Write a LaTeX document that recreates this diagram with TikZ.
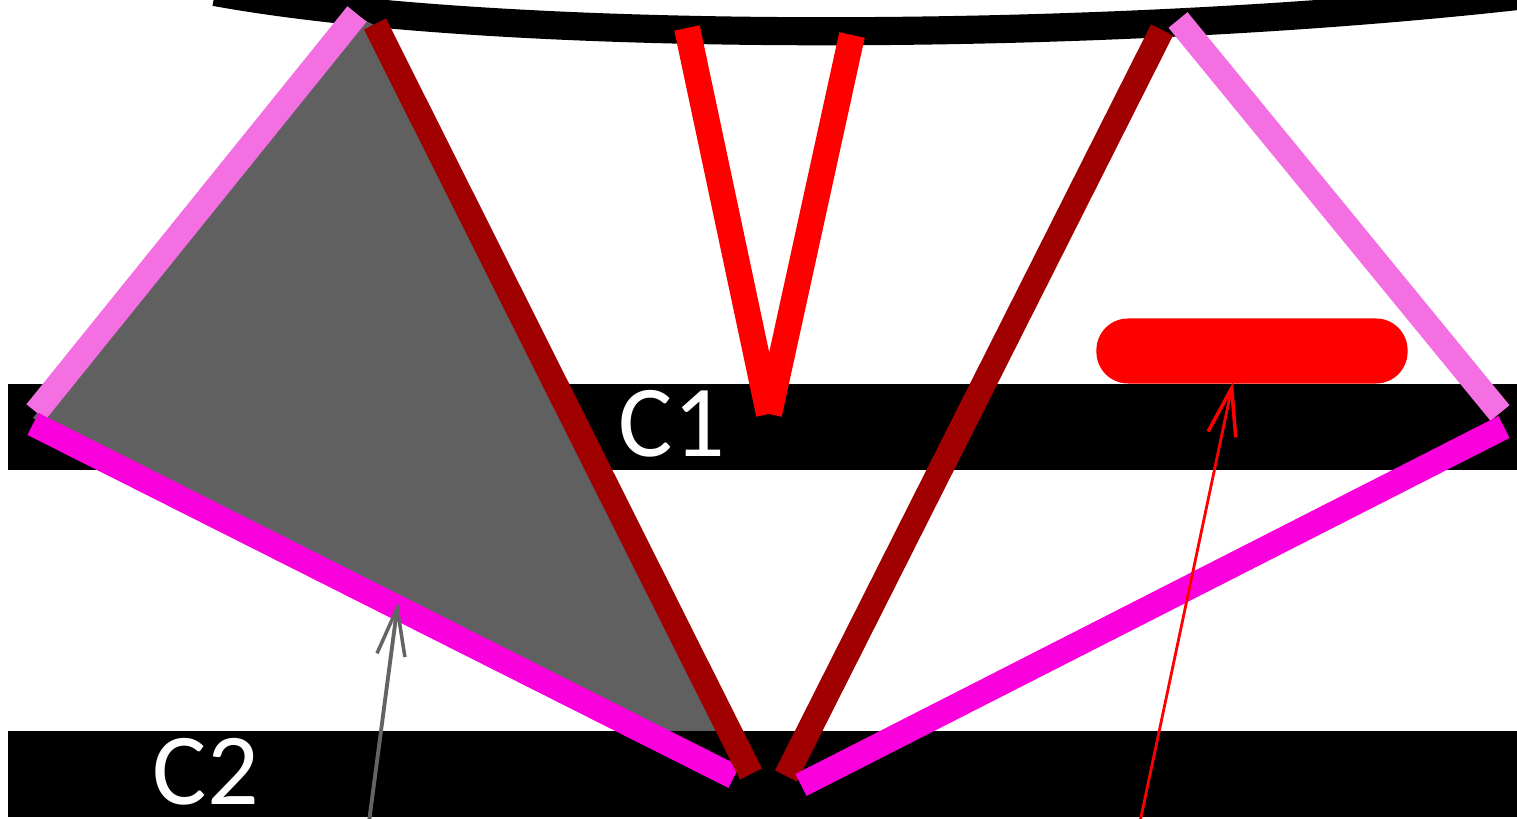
\documentclass[tikz,border=0pt]{standalone}
\usepackage{fontspec}
\setmainfont{Carlito}
\usetikzlibrary{arrows.meta}
\definecolor{lpink}{RGB}{244,111,225}
\definecolor{mag}{RGB}{250,0,220}
\definecolor{dred}{RGB}{160,0,0}
\definecolor{bred}{RGB}{255,0,0}
\definecolor{fillgray}{RGB}{96,96,96}
\definecolor{arrgray}{RGB}{100,100,100}
\tikzset{
  bar/.style={fill=black,draw=none},
  seg/.style={line width=7pt,line cap=butt},
  pinkseg/.style={seg,draw=lpink},
  magseg/.style={seg,draw=mag},
  dredseg/.style={seg,draw=dred},
  vseg/.style={line width=7.4pt,line cap=butt,draw=bred},
  lbl/.style={text=white,font=\fontsize{29}{29}\selectfont,inner sep=0pt},
  pointer/.style={-{Straight Barb[length=13.5pt,width=8pt,line width=1pt]}},
}
\begin{document}
\begin{tikzpicture}[x=0.01cm,y=-0.01cm]
\useasboundingbox (0,0) rectangle (1517,819);
% top curve
\draw[line width=8pt,black] (215,-8) .. controls (500,44) and (1100,44) .. (1535,-6);
% bar C1
\path[bar] (8,384) rectangle (1517,470);
% gray triangle
\fill[fillgray] (360,18) -- (33,418) -- (734,777) -- (751,774) -- (374,25) -- cycle;
% bar C2
\path[bar] (8,731) rectangle (1517,817);
% named points
\coordinate (lpt) at (357,14);
\coordinate (lpl) at (36,412);
\coordinate (lml) at (33,424);
\coordinate (lmb) at (734,777);
\coordinate (ldt) at (375,24);
\coordinate (ldb) at (751,774);
\coordinate (rdt) at (1162,30);
\coordinate (rdb) at (786,776);
\coordinate (rpt) at (1178,20);
\coordinate (rpr) at (1500,413);
\coordinate (rmr) at (1504,427);
\coordinate (rmb) at (801,785);
\coordinate (vl) at (687,28);
\coordinate (vr) at (852,35);
\coordinate (vb) at (769,414);
% lines
\draw[pinkseg] (lpt) -- (lpl);
\draw[magseg] (lml) -- (lmb);
\draw[dredseg] (ldt) -- (ldb);
\draw[dredseg] (rdt) -- (rdb);
\draw[pinkseg] (rpt) -- (rpr);
\draw[magseg] (rmr) -- (rmb);
\draw[vseg] (vl) -- (vb);
\draw[vseg] (vr) -- (vb);
% red blob
\node[fill=bred,draw=none,rounded corners=9pt,minimum width=3.11cm,minimum height=0.65cm,inner sep=0pt] (blob) at (1252,351) {};
% labels
\node[lbl] (c1) at (672,424) {C1};
\node[lbl] (c2) at (206,772) {C2};
% arrows
\coordinate (gtail) at (369,822);
\coordinate (gtip) at (398,602);
\coordinate (rtail) at (1140,822);
\coordinate (rtip) at (1233,382);
\draw[pointer,draw=arrgray,line width=1.1pt] (gtail) -- (gtip);
\draw[pointer,draw=bred,line width=0.8pt] (rtail) -- (rtip);
\end{tikzpicture}
\end{document}
